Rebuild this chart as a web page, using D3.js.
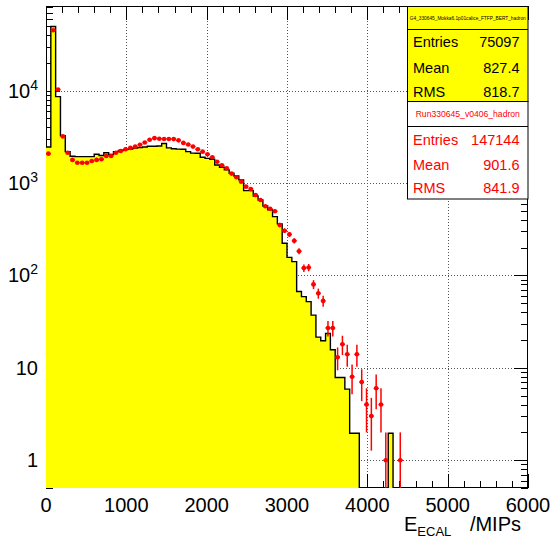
<!DOCTYPE html>
<html><head><meta charset="utf-8">
<script src="https://cdn.jsdelivr.net/npm/d3@7"></script>
<style>
body{margin:0;background:#fff;}
svg{display:block;font-family:"Liberation Sans",Arial,Helvetica,sans-serif;}
</style>
</head><body>
<svg id="chart" width="552" height="540"></svg>
<script>
// ---------- data ----------
const xMin = 0, xMax = 6000, nBins = 100;   // histogram binning (60 MIPs per bin)
// MC (yellow, scaled to data) bin contents, bins 0..99
const mcValues = [
  2460, 49500, 8610, 3250, 2186, 1950, 1930, 1930, 1930, 1930,
  2050, 1990, 2130, 2040, 2186, 2250, 2300, 2330, 2390, 2420,
  2460, 2500, 2500, 2520, 2680, 2400, 2350, 2330, 2320, 2190,
  2110, 2100, 1900, 1850, 1810, 1570, 1483, 1387, 1276, 1194,
  1082, 828, 828, 725, 656, 565, 512, 433, 361, 223,
  157, 141, 67, 59, 52, 37.2, 21.5, 19.6, 23.5, 15.7,
  7.84, 7.84, 5.88, 1.96, 1.96, 0, 0, 0, 0, 0,
  0, 1.96, 0, 0, 0, 0, 0, 0, 0, 0,
  0, 0, 0, 0, 0, 0, 0, 0, 0, 0,
  0, 0, 0, 0, 0, 0, 0, 0, 0, 0
];
// Data (red points) bin contents, bins 0..99
const dataValues = [
  2080, 45000, 10300, 3200, 2130, 1780, 1660, 1660, 1660, 1730,
  1780, 1810, 1965, 1965, 2130, 2220, 2320, 2400, 2480, 2600,
  2750, 2940, 3060, 3020, 3000, 3000, 2990, 2900, 2720, 2610,
  2480, 2320, 2186, 2050, 1900, 1700, 1560, 1445, 1265, 1155,
  1035, 914, 860, 743, 656, 560, 527, 495, 352, 305,
  278, 237, 183, 120, 122, 80, 64, 53, 27, 27,
  13, 18, 14, 8, 14, 7, 4, 3, 6, 4,
  1, 0, 0, 1, 0, 0, 0, 0, 0, 0,
  0, 0, 0, 0, 0, 0, 0, 0, 0, 0,
  0, 0, 0, 0, 0, 0, 0, 0, 0, 0
];
const xTickValues = [0, 1000, 2000, 3000, 4000, 5000, 6000];
const xGridValues = [1000, 2000, 3000, 4000, 5000];
const yTickValues = [1, 10, 100, 1000, 10000];
const yTickBase   = ["1", "10", "10", "10", "10"];
const yTickExp    = ["", "", "2", "3", "4"];
const statLabels  = ["Entries", "Mean", "RMS"];
const mcStatTitle = "G4_330645_Mokka6.1p01calice_FTFP_BERT_hadron";
const mcStats     = ["75097", "827.4", "818.7"];
const dataStatTitle = "Run330645_v0406_hadron";
const dataStats   = ["147144", "901.6", "841.9"];

// ---------- layout ----------
const L = 46, R = 528, T = 6, B = 488;
const svg = d3.select("#chart");
const x = d3.scaleLinear().domain([xMin, xMax]).range([L, R]);
const y = d3.scaleLog().domain([0.5, 82500]).range([B, T]);
const bw = (xMax - xMin) / nBins;
const edge = i => xMin + i * bw;
const yc = v => (v > 0 ? Math.min(B + 2, y(v)) : B + 2);

svg.append("defs").append("clipPath").attr("id", "plotclip")
  .append("rect").attr("x", L).attr("y", T).attr("width", R - L).attr("height", B - T);

// grid
const grid = svg.append("g").attr("stroke", "#555").attr("stroke-width", 1)
  .attr("stroke-dasharray", "1,2");
xGridValues.forEach(v => grid.append("line")
  .attr("x1", Math.round(x(v)) + 0.5).attr("x2", Math.round(x(v)) + 0.5).attr("y1", T).attr("y2", B));
yTickValues.forEach(v => grid.append("line")
  .attr("x1", L).attr("x2", R).attr("y1", Math.round(y(v)) + 0.5).attr("y2", Math.round(y(v)) + 0.5));

// ticks (all four sides)
const ticks = svg.append("g").attr("stroke", "#000").attr("stroke-width", 1);
const xMinor = d3.range(xMin, xMax + 1, 200);
xMinor.forEach(v => {
  const major = v % 1000 === 0;
  const len = major ? 14 : 7;
  const px = Math.round(x(v)) + 0.5;
  ticks.append("line").attr("x1", px).attr("x2", px).attr("y1", B).attr("y2", B - len);
  ticks.append("line").attr("x1", px).attr("x2", px).attr("y1", T).attr("y2", T + len);
});
const yMinor = [];
for (let e = -1; e <= 4; e++) for (let m = 1; m <= 9; m++) {
  const v = m * Math.pow(10, e);
  if (v >= 0.5 && v <= 82500) yMinor.push({v, major: m === 1});
}
yMinor.forEach(d => {
  const len = d.major ? 14 : 7;
  const py = Math.round(y(d.v)) + 0.5;
  ticks.append("line").attr("x1", L).attr("x2", L + len).attr("y1", py).attr("y2", py);
  ticks.append("line").attr("x1", R).attr("x2", R - len).attr("y1", py).attr("y2", py);
});
// frame
svg.append("rect").attr("x", L + 0.5).attr("y", T + 0.5).attr("width", R - L - 1).attr("height", B - T - 1)
  .attr("fill", "none").attr("stroke", "#000").attr("stroke-width", 1);

// MC histogram
const hg = svg.append("g").attr("clip-path", "url(#plotclip)");
let fillPath = `M${x(edge(0))},${B + 2}`;
let linePath = `M${x(edge(0))},${yc(mcValues[0])}`;
for (let i = 0; i < nBins; i++) {
  const yy = yc(mcValues[i]);
  fillPath += `L${x(edge(i))},${yy}L${x(edge(i + 1))},${yy}`;
  if (i > 0) linePath += `V${yy}`;
  linePath += `H${x(edge(i + 1))}`;
}
fillPath += `L${x(edge(nBins))},${B + 2}Z`;
hg.append("path").attr("d", fillPath).attr("fill", "#ffff00").attr("stroke", "none");
hg.append("path").attr("d", linePath).attr("fill", "none").attr("stroke", "#000").attr("stroke-width", 1.4);

// data points with errors
const pts = dataValues.map((v, i) => ({v, i})).filter(d => d.v > 0);
const pg = svg.append("g").attr("clip-path", "url(#plotclip)");
pts.forEach(d => {
  const cx = x(edge(d.i) + bw / 2);
  const err = Math.sqrt(d.v);
  const lo = d.v - err;
  pg.append("line").attr("x1", cx).attr("x2", cx)
    .attr("y1", y(d.v + err)).attr("y2", lo > 0 ? y(lo) : B + 2)
    .attr("stroke", "#ff0000").attr("stroke-width", 1.5);
  pg.append("line").attr("x1", x(edge(d.i))).attr("x2", x(edge(d.i + 1)))
    .attr("y1", y(d.v)).attr("y2", y(d.v))
    .attr("stroke", "#ff0000").attr("stroke-width", 1.5);
  pg.append("circle").attr("cx", cx).attr("cy", y(d.v)).attr("r", 2.3).attr("fill", "#ff0000");
});

// stats boxes
const bx0 = 407.5, bx1 = 528;
function statsBox(top, titleH, bottom, fill, color, title, titleSize, titleLen, values, rowBase) {
  const g = svg.append("g");
  g.append("rect").attr("x", bx0).attr("y", top).attr("width", bx1 - bx0).attr("height", bottom - top)
    .attr("fill", fill).attr("stroke", "#000").attr("stroke-width", 1);
  g.append("line").attr("x1", bx0).attr("x2", bx1).attr("y1", top + titleH).attr("y2", top + titleH)
    .attr("stroke", "#000").attr("stroke-width", 1);
  const t = g.append("text").attr("x", (bx0 + bx1) / 2).attr("y", top + titleH / 2 + titleSize * 0.35)
    .attr("text-anchor", "middle").attr("font-size", titleSize).attr("fill", color).text(title);
  if (titleLen) t.attr("textLength", titleLen).attr("lengthAdjust", "spacingAndGlyphs");
  statLabels.forEach((lab, k) => {
    g.append("text").attr("x", 413).attr("y", rowBase[k]).attr("font-size", 14.5).attr("fill", color).text(lab);
    g.append("text").attr("x", 519.5).attr("y", rowBase[k]).attr("text-anchor", "end")
      .attr("font-size", 14.5).attr("fill", color).text(values[k]);
  });
}
statsBox(6.5, 23, 101.5, "#ffff00", "#000", mcStatTitle, 5, 116, mcStats, [46.5, 72.5, 96.5]);
statsBox(101.5, 25, 199, "#ffffff", "#ff0000", dataStatTitle, 8.6, 0, dataStats, [144.5, 170, 192.5]);

// axis labels
const lab = svg.append("g").attr("fill", "#000").attr("font-size", 20);
xTickValues.forEach(v => lab.append("text").attr("x", x(v)).attr("y", 512)
  .attr("text-anchor", "middle").text(d3.format("d")(v)));
yTickValues.forEach((v, k) => {
  const t = lab.append("text").attr("x", 38).attr("y", y(v) + 7).attr("text-anchor", "end");
  t.append("tspan").text(yTickBase[k]);
  if (yTickExp[k]) t.append("tspan").attr("font-size", 14).attr("dy", -8).text(yTickExp[k]);
});
// x title
const xt = svg.append("text").attr("x", 404).attr("y", 531).attr("font-size", 20).attr("fill", "#000");
xt.append("tspan").text("E");
xt.append("tspan").attr("font-size", 13).attr("dy", 5).text("ECAL");
svg.append("text").attr("x", 521).attr("y", 531).attr("font-size", 20).attr("text-anchor", "end")
  .attr("fill", "#000").text("/MIPs");
</script>
</body></html>
